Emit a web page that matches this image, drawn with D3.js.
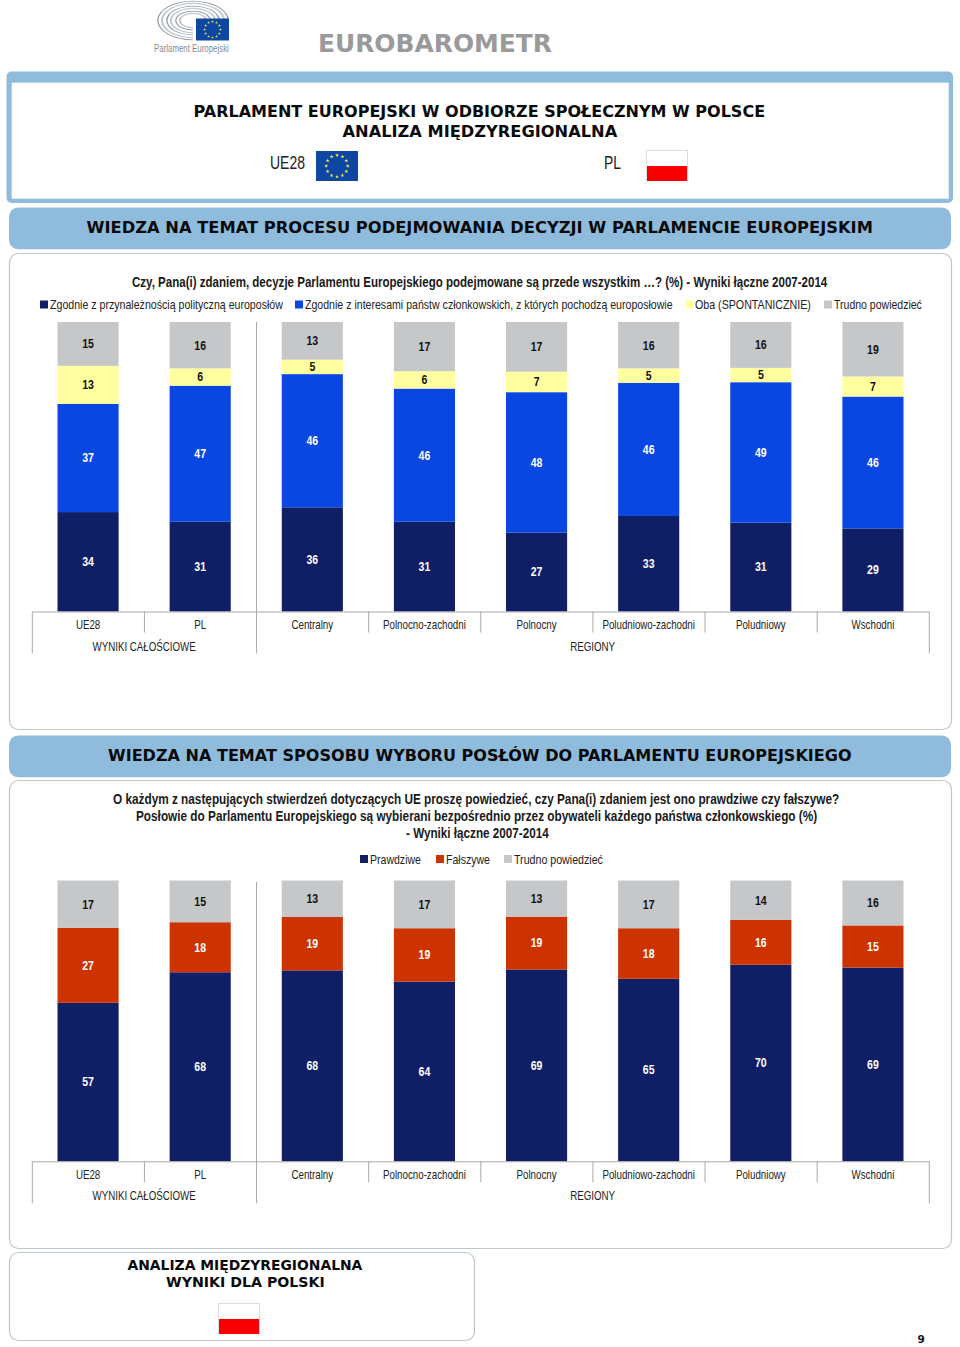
<!DOCTYPE html>
<html><head><meta charset="utf-8">
<script src="https://d3js.org/d3.v7.min.js"></script>
<style>html,body{margin:0;padding:0;background:#fff}svg{display:block}</style>
</head><body><svg id="c" width="960" height="1347"></svg>
<script>
const categories=["UE28","PL","Centralny","Polnocno-zachodni","Polnocny","Poludniowo-zachodni","Poludniowy","Wschodni"];
const groupLabels=["WYNIKI CAŁOŚCIOWE","REGIONY"];

const chart1Names=["Zgodnie z przynależnością polityczną europosłów","Zgodnie z interesami państw członkowskich, z których pochodzą europosłowie","Oba (SPONTANICZNIE)","Trudno powiedzieć"];
const chart1Political=[34,31,36,31,27,33,31,29];
const chart1National=[37,47,46,46,48,46,49,46];
const chart1Both=[13,6,5,6,7,5,5,7];
const chart1DontKnow=[15,16,13,17,17,16,16,19];
const chart1Colors=["#101e66","#0a46e2","#ffff9f","#c6c7c9"];

const chart2Names=["Prawdziwe","Fałszywe","Trudno powiedzieć"];
const chart2True=[57,68,68,64,69,65,70,69];
const chart2False=[27,18,19,19,19,18,16,15];
const chart2DontKnow=[17,15,13,17,13,17,14,16];
const chart2Colors=["#101e66","#cc3300","#c6c7c9"];

const svg=d3.select("#c");
const BLUE="#8fbcdc", SANS="'Liberation Sans',Arial,sans-serif", HEAD="'DejaVu Sans',Verdana,sans-serif";

/* text squeezed horizontally, like the condensed type of the original */
function txt(p,x,y,s,o={}){
  const t=p.append("text").text(s)
    .attr("font-family",o.font||SANS).attr("font-size",o.size||12)
    .attr("font-weight",o.weight||"normal").attr("fill",o.fill||"#222")
    .attr("text-anchor",o.anchor||"start");
  let sx=o.sx||1;
  if(o.width) sx=o.width/t.node().getComputedTextLength();
  t.attr("transform",`translate(${x},${y}) scale(${sx},1)`);
  return t;
}
function panel(x,y,w,h){
  svg.append("rect").attr("x",x+.5).attr("y",y+.5).attr("width",w).attr("height",h).attr("rx",9)
    .attr("fill","#fff").attr("stroke","#bcc8cc").attr("stroke-width",1.2);
}
function band(y,s,width){
  svg.append("rect").attr("x",9).attr("y",y+.6).attr("width",942).attr("height",41.6).attr("rx",9).attr("fill",BLUE);
  txt(svg,480-width/2,y+26,s,{font:HEAD,weight:"bold",size:16.5,fill:"#0a0a0a",width});
}
function euFlag(x,y,w,h){
  const g=svg.append("g").attr("transform",`translate(${x},${y})`);
  g.append("rect").attr("width",w).attr("height",h).attr("fill","#0d47a1");
  const r=h*.36, star=d3.symbol().type(d3.symbolStar).size(h*h*.0055);
  d3.range(12).forEach(i=>{
    const a=i*Math.PI/6;
    g.append("path").attr("d",star).attr("fill","#f2e65a")
      .attr("transform",`translate(${w/2+r*Math.cos(a)},${h/2+r*Math.sin(a)})`);
  });
}
function plFlag(x,y){
  svg.append("rect").attr("x",x+.5).attr("y",y+.5).attr("width",41).attr("height",30).attr("fill","#fff").attr("stroke","#ddd");
  svg.append("rect").attr("x",x+1).attr("y",y+16).attr("width",40).attr("height",15).attr("fill","#f80000");
}

/* logo */
const logo=svg.append("g").attr("transform","translate(193,20.5) scale(1,.55)");
const arc=d3.arc();
[34.5,30,25.5,21,16.5,12].forEach((r,i)=>{
  logo.append("path").attr("d",arc({innerRadius:r,outerRadius:r+(i%2?2.2:1.3),startAngle:-Math.PI,endAngle:Math.PI*.5}))
    .attr("fill",i%2?"#c3c9ce":"#8f989f");
});
euFlag(196,18.5,33,22);
txt(svg,154,51.5,"Parlament Europejski",{size:10.5,fill:"#7f8a94",width:75});

txt(svg,318,52,"EUROBAROMETR",{font:HEAD,weight:"bold",size:25,fill:"#9a9a9a",width:234});

/* header box */
svg.append("rect").attr("x",6.5).attr("y",71.5).attr("width",946.5).attr("height",131.5).attr("rx",5).attr("fill",BLUE);
svg.append("rect").attr("x",11.7).attr("y",82.7).attr("width",937).attr("height",116).attr("fill","#fff");
txt(svg,193.5,117,"PARLAMENT EUROPEJSKI W ODBIORZE SPOŁECZNYM W POLSCE",{font:HEAD,weight:"bold",size:16.5,fill:"#0a0a0a",width:572});
txt(svg,342.5,136.5,"ANALIZA MIĘDZYREGIONALNA",{font:HEAD,weight:"bold",size:16.5,fill:"#0a0a0a",width:275});
txt(svg,270,169,"UE28",{size:18,fill:"#222",width:35});
euFlag(316,151,42,30);
txt(svg,604,169,"PL",{size:18,fill:"#222",width:17});
plFlag(646,150);

band(207,"WIEDZA NA TEMAT PROCESU PODEJMOWANIA DECYZJI W PARLAMENCIE EUROPEJSKIM",787);
panel(9,253,942,476);
band(735,"WIEDZA NA TEMAT SPOSOBU WYBORU POSŁÓW DO PARLAMENTU EUROPEJSKIEGO",744);
panel(9,780,942,468);
panel(9,1252,465,88);

txt(svg,132,287,"Czy, Pana(i) zdaniem, decyzje Parlamentu Europejskiego podejmowane są przede wszystkim …? (%) - Wyniki łączne 2007-2014",{size:14.5,weight:"bold",fill:"#1a1a1a",width:696});
txt(svg,113,804,"O każdym z następujących stwierdzeń dotyczących UE proszę powiedzieć, czy Pana(i) zdaniem jest ono prawdziwe czy fałszywe?",{size:14.5,weight:"bold",fill:"#1a1a1a",width:727});
txt(svg,136,821,"Posłowie do Parlamentu Europejskiego są wybierani bezpośrednio przez obywateli każdego państwa członkowskiego (%)",{size:14.5,weight:"bold",fill:"#1a1a1a",width:682});
txt(svg,406,838,"- Wyniki łączne 2007-2014",{size:14.5,weight:"bold",fill:"#1a1a1a",width:143});

function legend(names,colors,xs,widths,y){
  names.forEach((n,i)=>{
    svg.append("rect").attr("x",xs[i]).attr("y",y-4).attr("width",8).attr("height",8).attr("fill",colors[i]);
    txt(svg,xs[i]+10,y+4.5,n,{size:13,fill:"#222",width:widths[i]});
  });
}
legend(chart1Names,chart1Colors,[40,295,685,824],[233,368,116,88],304.5);
legend(chart2Names,chart2Colors,[360,436,504],[51,44,89],859);

const x=d3.scaleBand().domain(categories).range([32,929]).paddingInner(.455).paddingOuter(.2275);

function drawChart(seriesArrays,colors,top,bottom,lineTop){
  const keys=seriesArrays.map((_,i)=>i);
  const rows=categories.map((c,j)=>{const r={cat:c};keys.forEach(k=>r[k]=seriesArrays[k][j]);return r;});
  const stacked=d3.stack().keys(keys).offset(d3.stackOffsetExpand)(rows);
  const y=d3.scaleLinear().domain([0,1]).range([bottom,top]);
  const g=svg.append("g");
  const layer=g.selectAll("g").data(stacked).join("g");
  layer.selectAll("rect").data((d,i)=>d.map(v=>({v,i}))).join("rect")
    .attr("x",d=>x(d.v.data.cat)).attr("width",x.bandwidth())
    .attr("y",d=>y(d.v[1])).attr("height",d=>y(d.v[0])-y(d.v[1]))
    .attr("fill",d=>colors[d.i]);
  layer.selectAll("text").data((d,i)=>d.map(v=>({v,i}))).join("text")
    .attr("transform",d=>`translate(${x(d.v.data.cat)+x.bandwidth()/2},${(y(d.v[0])+y(d.v[1]))/2+4.4}) scale(.78,1)`)
    .attr("text-anchor","middle").attr("font-family",SANS).attr("font-size",13.5).attr("font-weight","bold")
    .attr("fill",d=>{const c=d3.lab(colors[d.i]);return c.l<60?"#fff":"#111";})
    .text(d=>d.v.data[d.i]);

  const axis=svg.append("g").attr("transform",`translate(0,${bottom})`)
    .call(d3.axisBottom(x).tickSize(0).tickPadding(9));
  axis.select(".domain").attr("stroke","#a9a9a9");
  axis.selectAll("text").attr("font-family",SANS).attr("font-size",12.5).attr("fill","#222")
    .attr("transform","scale(.78,1)");
  const step=x.step(), edges=d3.range(9).map(i=>32+i*step);
  const tall=[0,2,8];
  svg.append("g").selectAll("line").data(edges).join("line")
    .attr("x1",d=>d+.3).attr("x2",d=>d+.3)
    .attr("y1",(d,i)=>i===2?lineTop:bottom)
    .attr("y2",(d,i)=>tall.includes(i)?bottom+42:bottom+21)
    .attr("stroke","#a9a9a9");
  const mid=(a,b)=>(edges[a]+edges[b])/2;
  [[groupLabels[0],mid(0,2)],[groupLabels[1],mid(2,8)]].forEach(([s,cx])=>{
    txt(svg,cx,bottom+39,s,{size:12.5,fill:"#222",anchor:"middle",sx:.78});
  });
}
drawChart([chart1Political,chart1National,chart1Both,chart1DontKnow],chart1Colors,322,611.5,322);
drawChart([chart2True,chart2False,chart2DontKnow],chart2Colors,880.5,1161.3,882);

txt(svg,127.5,1269.5,"ANALIZA MIĘDZYREGIONALNA",{font:HEAD,weight:"bold",size:14.5,fill:"#0a0a0a",width:235});
txt(svg,166,1286.5,"WYNIKI DLA POLSKI",{font:HEAD,weight:"bold",size:14.5,fill:"#0a0a0a",width:159});
plFlag(218,1303);
txt(svg,917.5,1343,"9",{font:HEAD,weight:"bold",size:10.5,fill:"#111"});
</script></body></html>
